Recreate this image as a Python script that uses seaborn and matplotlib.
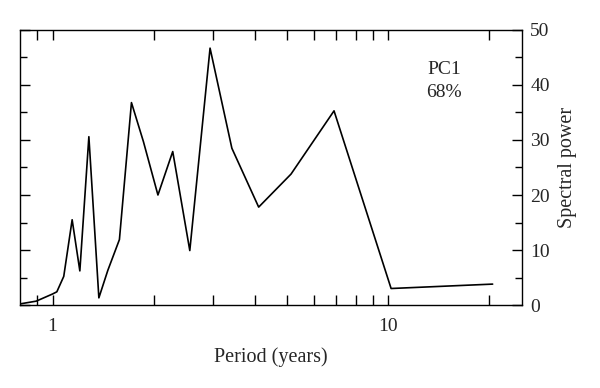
import matplotlib
matplotlib.use("Agg")
import matplotlib.pyplot as plt
import matplotlib.ticker as mticker
import seaborn as sns
import pandas as pd

period = [0.80, 0.894, 1.0, 1.03, 1.08, 1.144, 1.206, 1.283, 1.374, 1.461, 1.582,
          1.718, 1.865, 2.06, 2.28, 2.563, 2.945, 3.42, 4.11, 5.13, 6.89, 10.19, 20.44]
power = [0.2, 0.7, 2.0, 2.4, 5.2, 15.5, 6.2, 30.6, 1.3, 6.3, 11.9,
         36.8, 29.7, 20.0, 27.9, 9.9, 46.7, 28.5, 17.8, 23.8, 35.3, 3.0, 3.8]
major_x = [1, 10]
minor_x = [0.9, 2, 3, 4, 5, 6, 7, 8, 9, 20]
y_major = [0, 10, 20, 30, 40, 50]
y_minor = [5, 15, 25, 35, 45]

sns.set_style("white")
plt.rcParams['font.family'] = ['Liberation Serif', 'DejaVu Serif']

df = pd.DataFrame({"period": period, "power": power})
fig = plt.figure(figsize=(6, 3.88), dpi=100)
ax = fig.add_axes([0.0333, 0.2139, 0.8367, 0.7088])
sns.lineplot(data=df, x="period", y="power", color="black", linewidth=1.2, ax=ax)
ax.set_xscale("log")
ax.set_xlim(0.8, 25)
ax.set_ylim(0, 50)

ax.xaxis.set_major_locator(mticker.FixedLocator(major_x))
ax.xaxis.set_minor_locator(mticker.FixedLocator(minor_x))
ax.xaxis.set_major_formatter(mticker.FixedFormatter([str(v) for v in major_x]))
ax.xaxis.set_minor_formatter(mticker.NullFormatter())
ax.yaxis.set_major_locator(mticker.FixedLocator(y_major))
ax.yaxis.set_minor_locator(mticker.FixedLocator(y_minor))

ax.tick_params(axis='both', which='both', direction='in', color='black', width=1.0)
ax.tick_params(axis='x', which='both', top=True, bottom=True, labelsize=14, pad=9)
ax.tick_params(axis='y', which='both', left=True, right=True, labelleft=False,
               labelright=True, labelsize=14, pad=6)
ax.tick_params(which='major', length=7)
ax.tick_params(which='minor', length=7)
ax.tick_params(axis='y', which='minor', length=5)

for s in ax.spines.values():
    s.set_color("black")
    s.set_linewidth(1.0)

ax.set_xlabel("Period (years)", fontsize=14.5, labelpad=9)
ax.yaxis.set_label_position("right")
ax.set_ylabel("Spectral power", fontsize=14.5, labelpad=6)
ax.text(0.845, 0.815, "PC1\n68%", transform=ax.transAxes, ha="center", va="center",
        fontsize=14, linespacing=1.45)

fig.savefig("out.png", dpi=100, facecolor="white")
